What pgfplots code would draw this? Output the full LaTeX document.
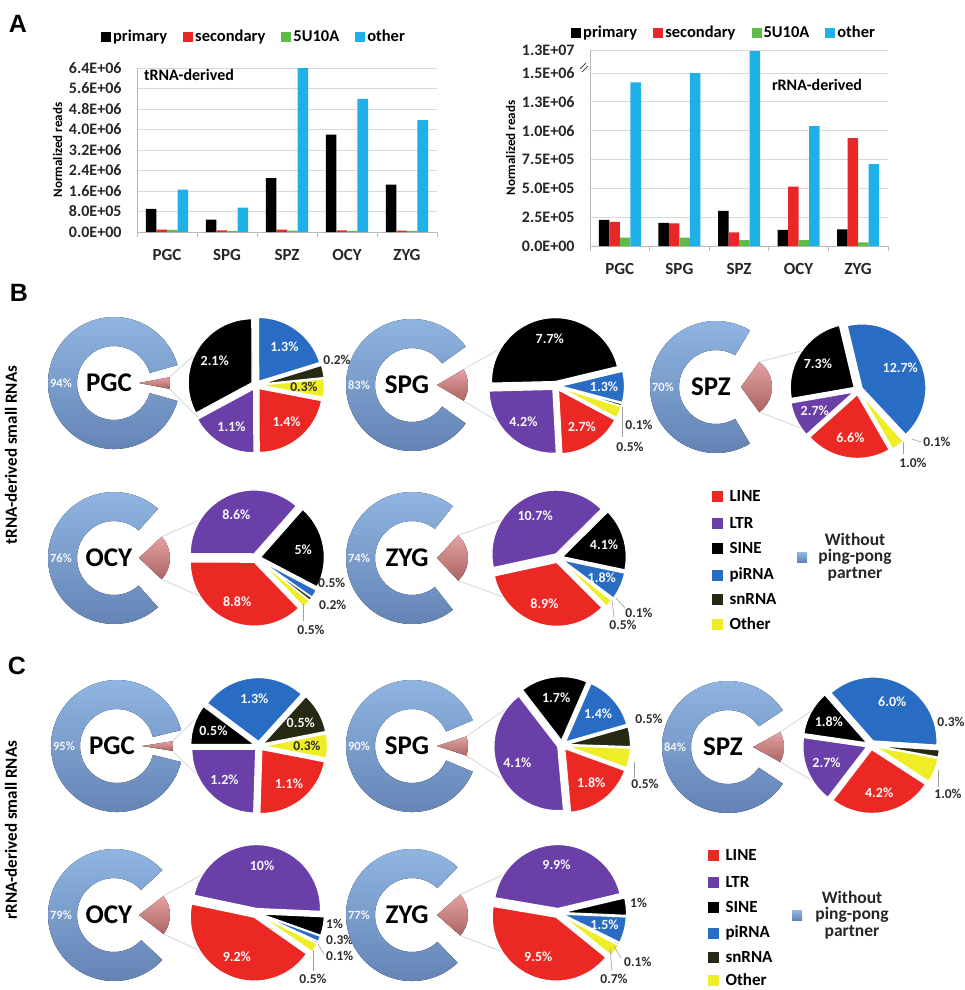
\documentclass[border=0pt]{standalone}
\usepackage{fontspec}
\setmainfont{Carlito}
\newfontfamily\lettersfont{Liberation Sans}
\usepackage{pgfplots}
\usepackage{pgfplotstable}
\pgfplotsset{compat=1.18}

% bar colours
\definecolor{cPrim}{RGB}{0,0,0}
\definecolor{cSec}{RGB}{232,40,40}
\definecolor{cFive}{RGB}{96,188,72}
\definecolor{cOth}{RGB}{30,176,230}
% slice colours
\definecolor{cLINE}{RGB}{236,40,36}
\definecolor{cLTR}{RGB}{106,64,168}
\definecolor{cSINE}{RGB}{0,0,0}
\definecolor{cPI}{RGB}{40,108,196}
\definecolor{cSN}{RGB}{38,42,18}
\definecolor{cOTH}{RGB}{238,238,40}
\definecolor{dTop}{RGB}{146,184,228}
\definecolor{dBot}{RGB}{98,130,180}
\definecolor{wTop}{RGB}{228,162,162}
\definecolor{wBot}{RGB}{172,100,100}
\definecolor{labd}{RGB}{45,45,45}

% normalized reads per class
\pgfplotstableread{
pos primary secondary fiveU other
0 0.90e6 0.09e6 0.08e6 1.65e6
1 0.48e6 0.06e6 0.04e6 0.95e6
2 2.10e6 0.09e6 0.05e6 6.40e6
3 3.80e6 0.06e6 0.04e6 5.20e6
4 1.85e6 0.05e6 0.04e6 4.37e6
}\trnatab

\pgfplotstableread{
pos primary secondary fiveU other
0 2.26e5 2.10e5 0.72e5 1.42e6
1 2.00e5 1.97e5 0.72e5 1.50e6
2 3.04e5 1.19e5 0.52e5 1.25e7
3 1.39e5 5.15e5 0.52e5 1.04e6
4 1.45e5 9.35e5 0.32e5 7.10e5
}\rrnatab

\pgfplotsset{barchart/.style={
  scale only axis, ybar=0pt, bar width=10.5pt,
  xmin=-0.5, xmax=4.5, ymin=0,
  xtick={0,...,4}, xticklabels={PGC,SPG,SPZ,OCY,ZYG},
  minor xtick={-0.5,0.5,1.5,2.5,3.5,4.5},
  axis x line*=bottom, axis y line*=left,
  axis line style={draw=gray!55, line width=0.8pt},
  ymajorgrids, grid style={draw=gray!30, line width=0.8pt},
  major tick length=0pt, minor tick length=5pt, tick align=outside,
  minor tick style={draw=gray!55, line width=0.8pt},
  scaled y ticks=false,
  yticklabel style={font=\bfseries\fontsize{16}{16}\selectfont, text=black!85, xshift=-12pt},
  xticklabel style={font=\bfseries\fontsize{17}{17}\selectfont, text=black!85, yshift=-14pt},
  ylabel={Normalized reads},
  ylabel style={font=\bfseries\fontsize{13}{13}\selectfont},
  legend columns=4,
  legend style={draw=none, fill=none, font=\bfseries\fontsize{16.5}{16.5}\selectfont,
    /tikz/every even column/.append style={column sep=14pt}},
  legend image code/.code={\fill[##1] (1pt,-5pt) rectangle (11pt,5pt);},
  every axis plot/.append style={draw=none},
}}

\tikzset{
  dname/.style={font=\bfseries\fontsize{27}{27}\selectfont, text=black},
  dpct/.style={font=\bfseries\fontsize{12.5}{12.5}\selectfont, text=white!92!gray},
  plw/.style={font=\bfseries\fontsize{14}{14}\selectfont, text=white!94!gray, inner sep=0pt},
  pld/.style={font=\bfseries\fontsize{13.5}{13.5}\selectfont, text=labd, inner sep=0pt},
  lead/.style={draw=gray!75, line width=0.6pt},
  conn/.style={draw=gray!30, line width=0.9pt},
  letter/.style={font=\lettersfont\bfseries\fontsize{25}{25}\selectfont},
  rowlab/.style={rotate=90, font=\bfseries\fontsize{17}{17}\selectfont},
  legtxt/.style={anchor=west, font=\bfseries\fontsize{17}{17}\selectfont},
  legnote/.style={font=\bfseries\fontsize{17.5}{17.5}\selectfont, text=black!85, align=center},
}

\newcommand\pexp{4.5}
\newcommand\prad{64}
\newcommand\dro{66}
\newcommand\dri{37}
\def\modeo{o}

% ring with its pulled-out wedge and the two connector lines
% #1 cx, #2 cy, #3 percent kept in the ring, #4 stage, #5 pie cx, #6 pie cy
\newcommand{\donut}[6]{%
  \pgfmathsetmacro\gA{((100-#3)*3.6+10)/2}%
  \pgfmathsetmacro\gB{360-\gA}%
  \pgfmathsetmacro\pxa{#1+\dro*cos(\gA)}%
  \pgfmathsetmacro\pya{#2-\dro*sin(\gA)}%
  \pgfmathsetmacro\pxb{#1+\dri*cos(\gB)}%
  \pgfmathsetmacro\pyb{#2-\dri*sin(\gB)}%
  \pgfmathsetmacro\wh{(100-#3)*1.8}%
  \pgfmathsetmacro\wx{#1+25}%
  \pgfmathsetmacro\cux{\wx+31*cos(\wh)}%
  \pgfmathsetmacro\cuy{#2-31*sin(\wh)}%
  \pgfmathsetmacro\cly{#2+31*sin(\wh)}%
  \pgfmathsetmacro\pux{#5+\prad*cos(140)}%
  \pgfmathsetmacro\puy{#6-\prad*sin(140)}%
  \pgfmathsetmacro\ply{#6+\prad*sin(140)}%
  \pgfmathsetmacro\nx{#1-5}%
  \pgfmathsetmacro\qx{#1-53}%
  \edef\cmd{%
    \noexpand\draw[conn] (axis cs:\cux,\cuy) -- (axis cs:\pux,\puy);
    \noexpand\draw[conn] (axis cs:\cux,\cly) -- (axis cs:\pux,\ply);
    \noexpand\fill[top color=dTop,bottom color=dBot] (axis cs:\pxa,\pya)
      arc[start angle=\gA,end angle=\gB,radius=\dro pt] -- (axis cs:\pxb,\pyb)
      arc[start angle=\gB,end angle=\gA,radius=\dri pt] -- cycle;
    \noexpand\fill[top color=wTop,bottom color=wBot] (axis cs:\wx,#2) -- ++(\wh:31pt)
      arc[start angle=\wh,end angle=-\wh,radius=31pt] -- cycle;
    \noexpand\node[dname] at (axis cs:\nx,#2) {#4};
    \noexpand\node[dpct] at (axis cs:\qx,#2) {#3\noexpand\%};
  }\cmd
}

% exploded pie, slices clockwise from the start angle
% #1 cx, #2 cy, #3 start angle, #4 list value/colour/label/mode (w, d inside; o outside)
\newcommand{\pieslices}[4]{%
  \xdef\pT{0}%
  \foreach \sliceV/\sliceC/\sliceL/\sliceM in {#4}{%
    \pgfmathsetmacro\tmpS{\pT+\sliceV}\xdef\pT{\tmpS}}%
  \xdef\curang{#3}%
  \foreach \sliceV/\sliceC/\sliceL/\sliceM in {#4}{%
    \pgfmathsetmacro\sA{\sliceV/\pT*360}%
    \pgfmathsetmacro\eA{\curang-\sA}%
    \pgfmathsetmacro\mA{\curang-\sA/2}%
    \pgfmathsetmacro\ox{#1+\pexp*cos(\mA)}%
    \pgfmathsetmacro\oy{#2-\pexp*sin(\mA)}%
    \edef\cmd{\noexpand\fill[\sliceC,draw=white,line width=1.3pt,line join=round]
      (axis cs:\ox,\oy) -- ++(\curang:\prad pt)
      arc[start angle=\curang,end angle=\eA,radius=\prad pt] -- cycle;}%
    \cmd
    \edef\curmode{\sliceM}%
    \ifx\curmode\modeo\else
      \pgfmathsetmacro\lx{#1+48*cos(\mA)}%
      \pgfmathsetmacro\ly{#2-48*sin(\mA)}%
      \edef\cmd{\noexpand\node[pl\sliceM] at (axis cs:\lx,\ly) {\sliceL\noexpand\%};}%
      \cmd
    \fi
    \xdef\curang{\eA}%
  }%
}

\begin{document}
\begin{tikzpicture}
\path[use as bounding box] (0pt,0pt) rectangle (964pt,-990pt);

% ---- A: tRNA-derived
\begin{axis}[barchart, at={(137pt,-232pt)}, anchor=south west,
  width=300pt, height=164pt, ymax=6.4e6,
  ytick={0,800000,1600000,2400000,3200000,4000000,4800000,5600000,6400000},
  yticklabels={0.0E+00,8.0E+05,1.6E+06,2.4E+06,3.2E+06,4.0E+06,4.8E+06,5.6E+06,6.4E+06},
  legend style={at={(axis description cs:0.39,1.19)}, anchor=center}]
\addplot[fill=cPrim] table[x=pos,y=primary]{\trnatab};
\addplot[fill=cSec] table[x=pos,y=secondary]{\trnatab};
\addplot[fill=cFive] table[x=pos,y=fiveU]{\trnatab};
\addplot[fill=cOth] table[x=pos,y=other]{\trnatab};
\legend{primary,secondary,5U10A,other}
\end{axis}

% ---- A: rRNA-derived (axis broken above 1.5E+06)
\begin{axis}[barchart, at={(590pt,-246pt)}, anchor=south west,
  width=298pt, height=196pt, ymax=1.7e6,
  y filter/.expression={y>1500000 ? 1500000+(y-1500000)*0.017391 : y},
  ytick={0,250000,500000,750000,1000000,1250000,1500000,1700000},
  yticklabels={0.0E+00,2.5E+05,5.0E+05,7.5E+05,1.0E+06,1.3E+06,1.5E+06,1.3E+07},
  legend style={at={(axis description cs:0.45,1.087)}, anchor=center}]
\addplot[fill=cPrim] table[x=pos,y=primary]{\rrnatab};
\addplot[fill=cSec] table[x=pos,y=secondary]{\rrnatab};
\addplot[fill=cFive] table[x=pos,y=fiveU]{\rrnatab};
\addplot[fill=cOth] table[x=pos,y=other]{\rrnatab};
\legend{primary,secondary,5U10A,other}
\end{axis}

% ---- B and C: ring and pie pairs
\begin{axis}[at={(0pt,0pt)}, anchor=north west, scale only axis,
  width=964pt, height=990pt, xmin=0, xmax=964, ymin=0, ymax=990,
  y dir=reverse, hide axis, clip=false]

\node[letter] at (axis cs:18,24) {A};
\node[letter] at (axis cs:19,293) {B};
\node[letter] at (axis cs:17,666) {C};
\node[font=\bfseries\fontsize{16}{16}\selectfont] at (axis cs:189,75) {tRNA-derived};
\node[font=\bfseries\fontsize{16}{16}\selectfont] at (axis cs:817,85) {rRNA-derived};
\draw[black!70, line width=0.8pt] (axis cs:580,69) -- (axis cs:586,63);
\draw[black!70, line width=0.8pt] (axis cs:582,72) -- (axis cs:588,66);

\node[rowlab] at (axis cs:11,455) {tRNA-derived small RNAs};
\node[rowlab] at (axis cs:11,830) {rRNA-derived small RNAs};

% B, first row
\donut{114}{383}{94}{PGC}{256}{385}
\pieslices{256}{385}{-11}{1.4/cLINE/1.4/w,1.1/cLTR/1.1/w,2.1/cSINE/2.1/w,1.3/cPI/1.3/w,0.2/cSN/0.2/o,0.3/cOTH/0.3/d}
\node[pld] at (axis cs:337,360) {0.2\%};

\donut{412}{385}{83}{SPG}{556}{386}
\pieslices{556}{386}{-28}{2.7/cLINE/2.7/w,4.2/cLTR/4.2/w,7.7/cSINE/7.7/w,1.3/cPI/1.3/w,0.1/cSN/0.1/o,0.5/cOTH/0.5/o}
\draw[lead] (axis cs:622,407) -- (axis cs:622,437);
\node[pld] at (axis cs:639,425) {0.1\%};
\node[pld] at (axis cs:630,447) {0.5\%};

\donut{716}{387}{70}{SPZ}{858}{390}
\pieslices{858}{390}{-60}{6.6/cLINE/6.6/w,2.7/cLTR/2.7/w,7.3/cSINE/7.3/w,12.7/cPI/12.7/w,0.1/cSN/0.1/o,1.0/cOTH/1.0/o}
\draw[lead] (axis cs:903,442) -- (axis cs:903,454);
\draw[lead] (axis cs:912,439) -- (axis cs:921,442);
\node[pld] at (axis cs:937,442) {0.1\%};
\node[pld] at (axis cs:913,463) {1.0\%};

% B, second row
\donut{114}{558}{76}{OCY}{256}{558}
\pieslices{256}{558}{-46}{8.8/cLINE/8.8/w,8.6/cLTR/8.6/w,5/cSINE/5/w,0.5/cPI/0.5/o,0.2/cSN/0.2/o,0.5/cOTH/0.5/o}
\draw[lead] (axis cs:303,604) -- (axis cs:303,621);
\node[pld, anchor=west] at (axis cs:318,583) {0.5\%};
\node[pld, anchor=west] at (axis cs:319,605) {0.2\%};
\node[pld] at (axis cs:311,630) {0.5\%};

\donut{412}{558}{74}{ZYG}{558}{558}
\pieslices{558}{558}{-45}{8.9/cLINE/8.9/w,10.7/cLTR/10.7/w,4.1/cSINE/4.1/w,1.8/cPI/1.8/w,0.1/cSN/0.1/o,0.5/cOTH/0.5/o}
\draw[lead] (axis cs:612,600) -- (axis cs:614,617);
\draw[lead] (axis cs:616,598) -- (axis cs:625,608);
\node[pld] at (axis cs:639,613) {0.1\%};
\node[pld] at (axis cs:623,625) {0.5\%};

% B legend
\fill[cLINE] (axis cs:712,491) rectangle (axis cs:723,502);
\node[legtxt] at (axis cs:726,496) {LINE};
\fill[cLTR] (axis cs:712,518) rectangle (axis cs:723,529);
\node[legtxt] at (axis cs:726,523) {LTR};
\fill[cSINE] (axis cs:712,543) rectangle (axis cs:723,554);
\node[legtxt] at (axis cs:726,548) {SINE};
\fill[cPI] (axis cs:712,570) rectangle (axis cs:723,581);
\node[legtxt] at (axis cs:726,575) {piRNA};
\fill[cSN] (axis cs:712,594) rectangle (axis cs:723,605);
\node[legtxt] at (axis cs:726,599) {snRNA};
\fill[cOTH] (axis cs:712,619) rectangle (axis cs:723,630);
\node[legtxt] at (axis cs:726,624) {Other};
\fill[top color=dTop,bottom color=dBot] (axis cs:797,552) rectangle (axis cs:807,562);
\node[legnote] at (axis cs:855,557) {Without\\[-1pt]ping-pong\\[-1pt]partner};

% C, first row
\donut{117}{746}{95}{PGC}{259}{746}
\pieslices{259}{746}{-11}{1.1/cLINE/1.1/w,1.2/cLTR/1.2/w,0.5/cSINE/0.5/w,1.3/cPI/1.3/w,0.5/cSN/0.5/w,0.3/cOTH/0.3/d}

\donut{412}{746}{90}{SPG}{562}{745}
\pieslices{562}{745}{-20}{1.8/cLINE/1.8/w,4.1/cLTR/4.1/w,1.7/cSINE/1.7/w,1.4/cPI/1.4/w,0.5/cSN/0.5/o,0.5/cOTH/0.5/o}
\draw[lead] (axis cs:634,762) -- (axis cs:634,778);
\node[pld] at (axis cs:649,719) {0.5\%};
\node[pld] at (axis cs:645,784) {0.5\%};

\donut{728}{747}{84}{SPZ}{871}{745}
\pieslices{871}{745}{-33}{4.2/cLINE/4.2/w,2.7/cLTR/2.7/w,1.8/cSINE/1.8/w,6.0/cPI/6.0/w,0.3/cSN/0.3/o,1.0/cOTH/1.0/o}
\draw[lead] (axis cs:938,770) -- (axis cs:938,787);
\node[pld] at (axis cs:951,722) {0.3\%};
\node[pld] at (axis cs:948,794) {1.0\%};

% C, second row
\donut{114}{915}{79}{OCY}{256}{913}
\pieslices{256}{913}{-35}{9.2/cLINE/9.2/w,10/cLTR/10/w,1/cSINE/1/o,0.3/cPI/0.3/o,0.1/cSN/0.1/o,0.5/cOTH/0.5/o}
\draw[lead] (axis cs:318,944) -- (axis cs:324,954);
\draw[lead] (axis cs:313,950) -- (axis cs:313,971);
\node[pld, anchor=west] at (axis cs:326,924) {1\%};
\node[pld, anchor=west] at (axis cs:326,940) {0.3\%};
\node[pld, anchor=west] at (axis cs:326,956) {0.1\%};
\node[pld] at (axis cs:313,979) {0.5\%};

\donut{412}{915}{77}{ZYG}{558}{913}
\pieslices{558}{913}{-39}{9.5/cLINE/9.5/w,9.9/cLTR/9.9/w,1/cSINE/1/o,1.5/cPI/1.5/w,0.1/cSN/0.1/o,0.7/cOTH/0.7/o}
\draw[lead] (axis cs:610,948) -- (axis cs:612,971);
\draw[lead] (axis cs:614,946) -- (axis cs:621,958);
\node[pld, anchor=west] at (axis cs:630,903) {1\%};
\node[pld, anchor=west] at (axis cs:624,962) {0.1\%};
\node[pld] at (axis cs:614,979) {0.7\%};

% C legend
\fill[cLINE] (axis cs:708,850) rectangle (axis cs:719,861);
\node[legtxt] at (axis cs:722,855) {LINE};
\fill[cLTR] (axis cs:708,877) rectangle (axis cs:719,888);
\node[legtxt] at (axis cs:722,882) {LTR};
\fill[cSINE] (axis cs:708,902) rectangle (axis cs:719,913);
\node[legtxt] at (axis cs:722,907) {SINE};
\fill[cPI] (axis cs:708,928) rectangle (axis cs:719,939);
\node[legtxt] at (axis cs:722,933) {piRNA};
\fill[cSN] (axis cs:708,952) rectangle (axis cs:719,963);
\node[legtxt] at (axis cs:722,957) {snRNA};
\fill[cOTH] (axis cs:708,975) rectangle (axis cs:719,986);
\node[legtxt] at (axis cs:722,980) {Other};
\fill[top color=dTop,bottom color=dBot] (axis cs:792,910) rectangle (axis cs:802,920);
\node[legnote] at (axis cs:852,915) {Without\\[-1pt]ping-pong\\[-1pt]partner};
\end{axis}
\end{tikzpicture}
\end{document}
